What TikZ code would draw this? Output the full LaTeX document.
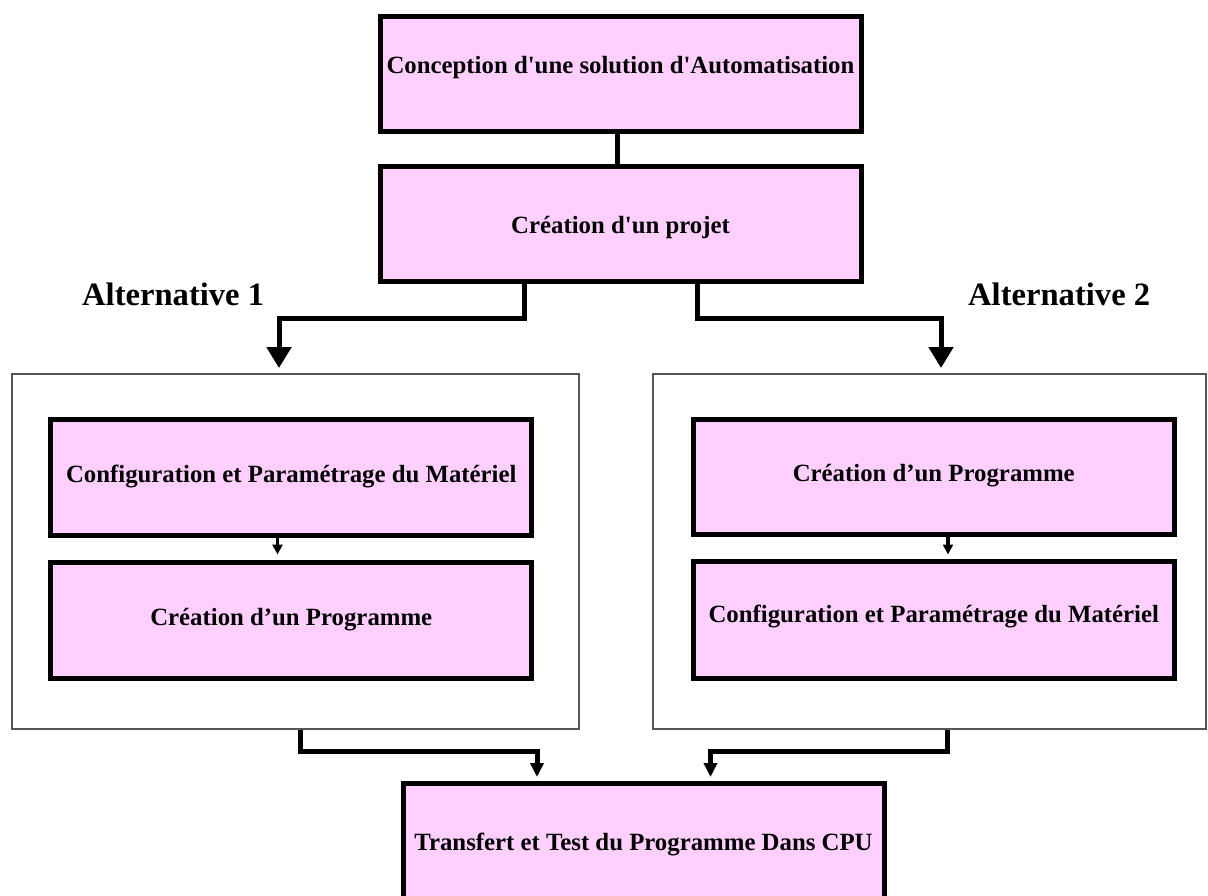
\documentclass[tikz,border=0pt]{standalone}
\usepackage{fontspec}
\newfontfamily\boxfont{Liberation Serif}
\usetikzlibrary{arrows.meta}
\definecolor{boxpink}{RGB}{255,208,255}
\definecolor{framegray}{RGB}{85,85,85}
\begin{document}
\begin{tikzpicture}[x=1pt,y=-1pt,
  stepbox/.style={draw=black,line width=5pt,fill=boxpink,rectangle,inner sep=0pt,
    minimum width=481pt,minimum height=115.5pt},
  groupframe/.style={draw=framegray,line width=1.6pt,rectangle,inner sep=0pt},
  boxtext/.style={anchor=base,inner sep=0pt,
    font=\boxfont\bfseries\fontsize{24.8}{28}\selectfont},
  alttext/.style={anchor=base west,inner sep=0pt,
    font=\boxfont\bfseries\fontsize{32.6}{38}\selectfont},
  link/.style={line width=5pt},
  thinlink/.style={line width=3.5pt},
  bigtip/.style={-{Triangle[width=24pt,length=21pt]}},
  smalltip/.style={-{Triangle[width=13pt,length=14pt]}},
  tinytip/.style={-{Triangle[width=10pt,length=10pt]}}
]
\clip (0,0) rectangle (1208,895);
\fill[white] (0,0) rectangle (1208,895);

% group frames for the two alternatives
\node[groupframe,minimum width=567.3pt,minimum height=354.7pt] (leftgroup) at (295.35,551.35) {};
\node[groupframe,minimum width=553pt,minimum height=354.7pt] (rightgroup) at (929.5,551.35) {};

% main steps
\node[stepbox] (concept) at (620.5,73.75) {};
\node[stepbox,minimum height=115pt] (projet) at (620.5,224) {};
\node[stepbox,minimum height=115.5pt] (cfgL) at (291.25,477.25) {};
\node[stepbox,minimum height=116pt] (progL) at (291.25,620) {};
\node[stepbox,minimum height=115pt] (progR) at (933.75,477) {};
\node[stepbox,minimum height=117pt] (cfgR) at (933.75,619.5) {};
\node[stepbox,minimum height=122pt] (cpu) at (643.5,844) {};

% texts
\node[boxtext] (tconcept) at (620.5,73) {Conception d'une solution d'Automatisation};
\node[boxtext] (tprojet) at (620.5,233) {Création d'un projet};
\node[boxtext] (tcfgL) at (291.25,482) {Configuration et Paramétrage du Matériel};
\node[boxtext] (tprogL) at (291.25,625) {Création d’un Programme};
\node[boxtext] (tprogR) at (933.75,481) {Création d’un Programme};
\node[boxtext] (tcfgR) at (933.75,622) {Configuration et Paramétrage du Matériel};
\node[boxtext] (tcpu) at (643.5,850) {Transfert et Test du Programme Dans CPU};
\node[alttext] (alt1) at (82,305) {Alternative 1};
\node[alttext] (alt2) at (968,305) {Alternative 2};

% connector end points
\coordinate (alt1in) at (279,368);
\coordinate (alt2in) at (941,368);
\coordinate (cpuinL) at (537,777);
\coordinate (cpuinR) at (710.5,777);

% connectors
\draw[link] ([xshift=-3.5pt]concept.south) -- ([xshift=-3.5pt]projet.north);
\draw[link,bigtip] ([xshift=-96.5pt]projet.south) |- (alt1in |- 0,318) -- (alt1in);
\draw[link,bigtip] ([xshift=76.5pt]projet.south) |- (alt2in |- 0,318) -- (alt2in);
\draw[thinlink,tinytip] ([xshift=-13.75pt]cfgL.south) -- ([xshift=-13.75pt,yshift=5pt]progL.north);
\draw[thinlink,tinytip] ([xshift=14.25pt]progR.south) -- ([xshift=14.25pt,yshift=4pt]cfgR.north);
\draw[link,smalltip] ([xshift=5pt]leftgroup.south) |- (cpuinL |- 0,751) -- (cpuinL);
\draw[link,smalltip] ([xshift=17.5pt]rightgroup.south) |- (cpuinR |- 0,751) -- (cpuinR);
\end{tikzpicture}
\end{document}
